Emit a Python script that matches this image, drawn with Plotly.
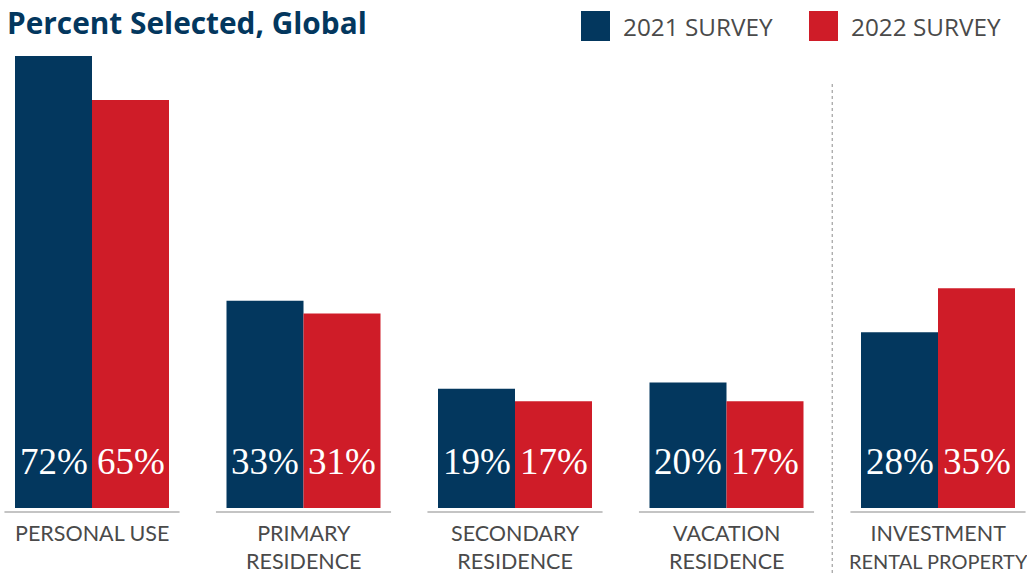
import plotly.graph_objects as go

# Survey data: share of respondents selecting each intended use
categories = ["PERSONAL USE", "PRIMARY<br>RESIDENCE", "SECONDARY<br>RESIDENCE",
              "VACATION<br>RESIDENCE",
              "INVESTMENT<br><span style='font-size:20px'>RENTAL PROPERTY</span>"]
survey_2021 = [72, 33, 19, 20, 28]
survey_2022 = [65, 31, 17, 17, 35]
series_names = ["2021 SURVEY", "2022 SURVEY"]

NAVY = "#03375E"
RED = "#CF1C28"
GRAY_TEXT = "#4a4a4a"

W, H = 1027, 573
PX_PER_UNIT_X = 211.5          # horizontal distance between group centres
PX_PER_PCT = 6.278             # vertical pixels per percentage point
BASE_PX = 508                  # pixel row of the bar baseline
HALF_BAR = 77 / 2 / PX_PER_UNIT_X

x_pos = list(range(len(categories)))

fig = go.Figure()
for name, vals, color in [(series_names[0], survey_2021, NAVY),
                          (series_names[1], survey_2022, RED)]:
    fig.add_trace(go.Bar(
        x=x_pos, y=vals, name=name,
        marker=dict(color=color, line=dict(width=0)),
        showlegend=False, hoverinfo="skip",
    ))

shapes = []
annotations = []

# Value labels near the foot of each bar
for offset, vals in [(-HALF_BAR, survey_2021), (HALF_BAR, survey_2022)]:
    for i, v in enumerate(vals):
        annotations.append(dict(
            x=i + offset, y=0, xref="x", yref="y", text=f"{v}%",
            showarrow=False, xanchor="center", yanchor="middle", yshift=47,
            font=dict(family="Liberation Serif", size=37, color="white"),
        ))

# Category labels and baseline rules under each group
for i, cat in enumerate(categories):
    annotations.append(dict(
        x=i, y=0, xref="x", yref="y", text=cat, showarrow=False,
        yanchor="top", yshift=-10, align="center",
        font=dict(family="Lato", size=21.5, color=GRAY_TEXT),
    ))
    shapes.append(dict(
        type="line", xref="x", yref="y", x0=i - 0.414, x1=i + 0.414,
        y0=-4 / PX_PER_PCT, y1=-4 / PX_PER_PCT,
        line=dict(color="#c4c4c4", width=2),
    ))

# Dashed divider before the investment group
shapes.append(dict(
    type="line", xref="x", yref="y", x0=3.5, x1=3.5,
    y0=-(H - BASE_PX) / PX_PER_PCT, y1=(BASE_PX - 83) / PX_PER_PCT,
    line=dict(color="#a0a0a0", width=1.2, dash="3px,3px"),
))

# Legend swatches and labels
for (name, color, sx) in [(series_names[0], NAVY, 581), (series_names[1], RED, 809)]:
    shapes.append(dict(
        type="rect", xref="paper", yref="paper",
        x0=sx / W, x1=(sx + 29) / W,
        y0=1 - 41 / H, y1=1 - 11 / H,
        fillcolor=color, line=dict(width=0),
    ))
    annotations.append(dict(
        x=(sx + 40) / W, y=1 - 26 / H, xref="paper", yref="paper",
        text=name, showarrow=False, xanchor="left", yanchor="middle",
        font=dict(family="Open Sans", size=24.3, color=GRAY_TEXT),
    ))

# Title
annotations.append(dict(
    x=5 / W, y=1 - 23 / H, xref="paper", yref="paper",
    text="<b>Percent Selected, Global</b>", showarrow=False,
    xanchor="left", yanchor="middle",
    font=dict(family="Open Sans", size=29.8, color=NAVY),
))

fig.update_layout(
    width=W, height=H,
    margin=dict(l=0, r=0, t=0, b=0),
    paper_bgcolor="white", plot_bgcolor="white",
    barmode="group", bargap=1 - 154 / PX_PER_UNIT_X, bargroupgap=0,
    xaxis=dict(range=[-92 / PX_PER_UNIT_X, (W - 92) / PX_PER_UNIT_X],
               visible=False, fixedrange=True),
    yaxis=dict(range=[-(H - BASE_PX) / PX_PER_PCT, BASE_PX / PX_PER_PCT],
               visible=False, fixedrange=True),
    shapes=shapes, annotations=annotations,
)

fig.write_html("out.html", config={"displayModeBar": False})
